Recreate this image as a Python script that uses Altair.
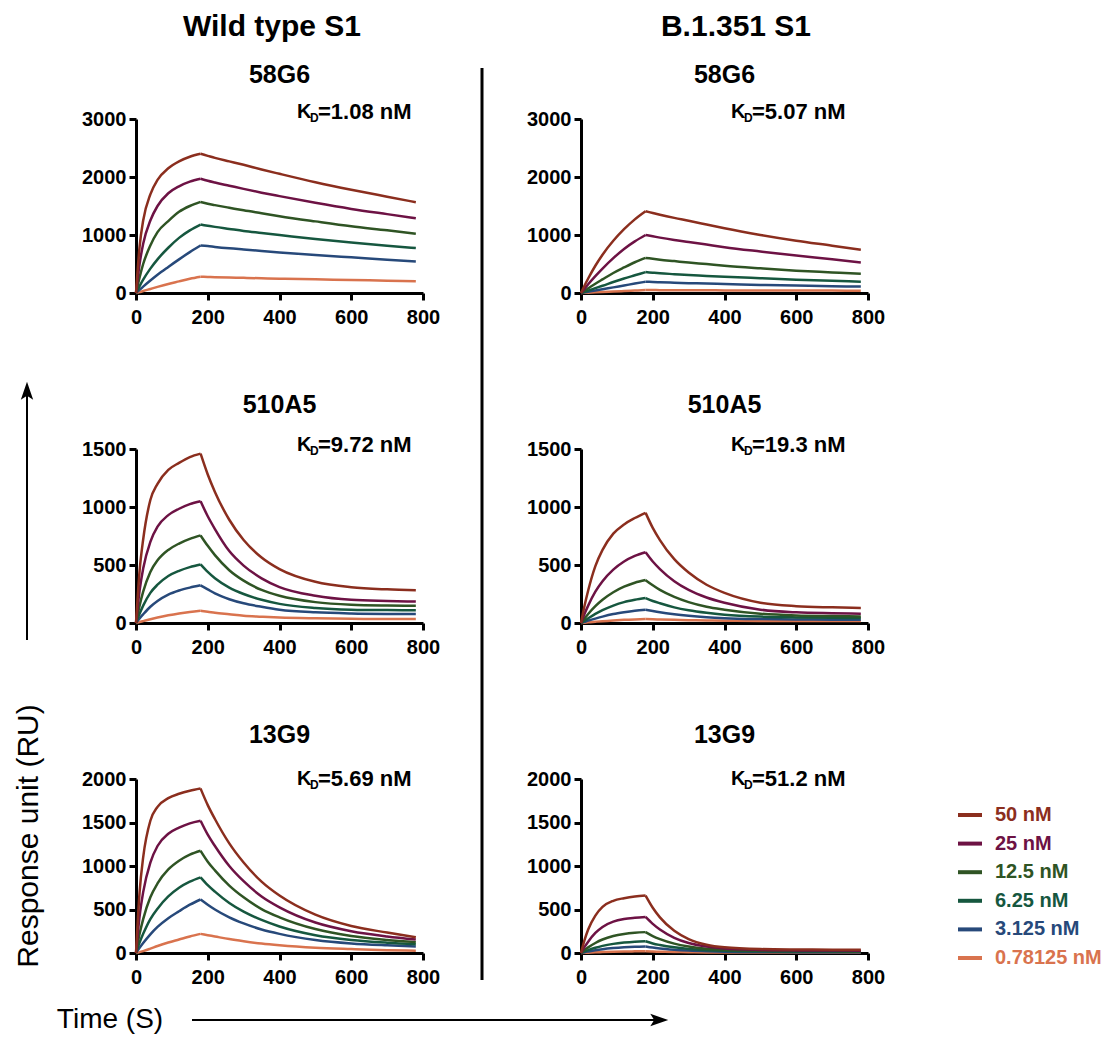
import altair as alt
import pandas as pd

FONT = "Liberation Sans"

# sampling times (s) of every sensorgram
TIMES = [0, 10, 20, 40, 60, 90, 120, 150, 180, 200, 220, 260, 300, 350, 400, 500, 600, 700, 780]
CONCS = ["50 nM", "25 nM", "12.5 nM", "6.25 nM", "3.125 nM", "0.78125 nM"]
COLORS = ["#8B2E1E", "#6D1244", "#2F5424", "#16573F", "#27497A", "#D9734E"]
X_TICKS = [0, 200, 400, 600, 800]

# response units, one list per concentration (50 -> 0.78125 nM)
WT_58G6 = [
    [0, 800, 1250, 1700, 1950, 2150, 2270, 2350, 2400, 2365, 2330, 2270, 2210, 2130, 2055, 1910, 1780, 1660, 1565],
    [0, 500, 850, 1250, 1500, 1720, 1840, 1920, 1970, 1935, 1905, 1850, 1795, 1730, 1670, 1555, 1450, 1360, 1290],
    [0, 270, 500, 820, 1050, 1240, 1400, 1500, 1570, 1540, 1515, 1470, 1425, 1375, 1325, 1235, 1150, 1080, 1020],
    [0, 120, 230, 420, 580, 780, 950, 1080, 1180, 1160, 1140, 1105, 1070, 1035, 1000, 930, 870, 815, 775],
    [0, 55, 110, 215, 315, 450, 580, 705, 820, 810, 795, 770, 750, 725, 700, 655, 615, 575, 545],
    [0, 15, 35, 70, 105, 155, 200, 245, 280, 277, 273, 267, 261, 254, 247, 235, 224, 212, 203],
]
B1351_58G6 = [
    [0, 130, 250, 470, 660, 900, 1100, 1270, 1410, 1380, 1350, 1295, 1245, 1180, 1115, 1000, 900, 815, 745],
    [0, 75, 150, 290, 420, 600, 760, 890, 1000, 978, 955, 915, 880, 835, 790, 715, 645, 580, 525],
    [0, 40, 80, 160, 235, 345, 440, 530, 605, 590, 575, 550, 525, 498, 470, 425, 385, 355, 330],
    [0, 20, 42, 85, 125, 190, 250, 305, 360, 350, 340, 325, 310, 295, 280, 255, 230, 210, 195],
    [0, 11, 22, 43, 65, 97, 130, 162, 195, 190, 185, 178, 170, 162, 155, 140, 128, 118, 110],
    [0, 3, 6, 11, 17, 25, 33, 42, 50, 50, 49, 48, 47, 46, 45, 43, 42, 41, 40],
]
WT_510A5 = [
    [0, 450, 720, 1060, 1200, 1320, 1380, 1430, 1460, 1280, 1130, 890, 715, 565, 465, 355, 308, 290, 283],
    [0, 280, 470, 700, 830, 930, 985, 1025, 1050, 920, 810, 620, 495, 385, 310, 235, 200, 190, 185],
    [0, 150, 270, 440, 540, 630, 685, 725, 755, 665, 585, 455, 365, 285, 235, 180, 157, 150, 148],
    [0, 80, 150, 260, 330, 405, 450, 482, 505, 440, 385, 305, 250, 200, 165, 130, 115, 111, 110],
    [0, 40, 75, 140, 190, 245, 280, 305, 325, 290, 255, 205, 170, 140, 115, 92, 82, 78, 77],
    [0, 8, 16, 32, 47, 66, 82, 95, 105, 97, 88, 75, 62, 54, 47, 40, 36, 34, 34],
]
B1351_510A5 = [
    [0, 150, 280, 490, 630, 770, 850, 905, 950, 820, 715, 550, 435, 330, 260, 175, 145, 135, 130],
    [0, 80, 150, 270, 360, 460, 530, 578, 610, 530, 465, 360, 285, 220, 175, 115, 92, 84, 80],
    [0, 40, 78, 145, 200, 265, 313, 347, 370, 325, 285, 225, 180, 140, 115, 80, 65, 60, 57],
    [0, 20, 40, 78, 110, 150, 180, 200, 215, 190, 170, 135, 110, 88, 72, 55, 48, 45, 43],
    [0, 10, 20, 38, 55, 77, 93, 106, 115, 103, 92, 75, 62, 50, 42, 34, 30, 29, 28],
    [0, 3, 6, 11, 16, 22, 27, 31, 35, 32, 30, 27, 24, 22, 20, 18, 17, 17, 17],
]
WT_13G9 = [
    [0, 700, 1100, 1520, 1680, 1780, 1830, 1865, 1890, 1700, 1540, 1260, 1040, 820, 660, 440, 310, 235, 180],
    [0, 420, 700, 1040, 1230, 1370, 1440, 1490, 1520, 1360, 1230, 1000, 825, 650, 525, 350, 250, 190, 155],
    [0, 220, 390, 640, 800, 960, 1060, 1130, 1175, 1050, 950, 775, 640, 505, 410, 275, 195, 150, 125],
    [0, 120, 220, 390, 510, 650, 750, 820, 870, 780, 705, 575, 475, 380, 305, 205, 150, 118, 100],
    [0, 60, 115, 215, 300, 400, 480, 555, 615, 555, 500, 410, 340, 270, 220, 150, 110, 88, 75],
    [0, 10, 22, 50, 80, 120, 155, 190, 220, 205, 190, 160, 135, 108, 88, 60, 45, 33, 27],
]
B1351_13G9 = [
    [0, 150, 270, 430, 530, 600, 630, 650, 660, 520, 410, 255, 160, 95, 65, 45, 40, 38, 36],
    [0, 70, 130, 230, 300, 360, 390, 405, 415, 335, 270, 175, 115, 75, 52, 35, 30, 28, 27],
    [0, 35, 65, 115, 155, 195, 218, 232, 240, 195, 160, 108, 75, 50, 37, 27, 24, 22, 21],
    [0, 18, 33, 60, 82, 105, 120, 130, 135, 110, 92, 65, 47, 33, 25, 19, 17, 16, 15],
    [0, 9, 17, 32, 44, 57, 66, 72, 75, 62, 52, 38, 28, 20, 15, 11, 10, 10, 10],
    [0, 2, 4, 8, 11, 15, 17, 19, 20, 17, 15, 12, 9, 7, 6, 5, 5, 5, 5],
]

W, H = 287, 174
ARROW_UP = "M0,-1L0.55,0.6L0,0.25L-0.55,0.6Z"
ARROW_RIGHT = "M1,0L-0.6,0.55L-0.25,0L-0.6,-0.55Z"

color = alt.Color("conc:N", scale=alt.Scale(domain=CONCS, range=COLORS), legend=None)


def curve_frame(curves):
    rows = []
    for conc, vals in reversed(list(zip(CONCS, curves))):
        for t, v in zip(TIMES, vals):
            if t <= 180:
                rows.append({"conc": conc, "t": t, "ru": v, "phase": "association"})
            if t >= 180:
                rows.append({"conc": conc, "t": t, "ru": v, "phase": "dissociation"})
    return pd.DataFrame(rows)


def axis(values, pad):
    return alt.Axis(values=values, title=None, grid=False, format="d", labelFont=FONT,
                    labelFontSize=20, labelFontWeight="bold", labelColor="black",
                    labelFlush=False, labelOverlap=False, labelPadding=pad,
                    domainColor="black", domainWidth=3, tickColor="black", tickWidth=3,
                    tickSize=7)


def text_layer(value, x, y, size, weight="bold", angle=0, align="center", col="black"):
    df = pd.DataFrame({"label": [value]})
    return alt.Chart(df).mark_text(font=FONT, fontSize=size, fontWeight=weight, color=col,
                                   align=align, baseline="middle", angle=angle).encode(
        x=alt.value(x), y=alt.value(y), text="label:N")


def one_row():
    return alt.Chart(pd.DataFrame({"k": [0]}))


def panel(name, kd, curves, ymax, ystep, kx, ky, extra=()):
    df = curve_frame(curves)
    lines = alt.Chart(df).mark_line(strokeWidth=2.5, interpolate="monotone").encode(
        x=alt.X("t:Q", scale=alt.Scale(domain=[0, 800], nice=False), axis=axis(X_TICKS, 7)),
        y=alt.Y("ru:Q", scale=alt.Scale(domain=[0, ymax], nice=False),
                axis=axis(list(range(0, ymax + 1, ystep)), 3)),
        color=color, detail="phase:N")
    layers = [lines,
              text_layer(name, W / 2, -44, 25),
              text_layer("K", kx, ky, 20, align="left"),
              text_layer("D", kx + 13, ky + 6, 12, align="left"),
              text_layer("=" + kd + " nM", kx + 21, ky, 22, align="left")]
    layers.extend(extra)
    return alt.layer(*layers).properties(width=W, height=H)


# ---- annotations ----
anchor = one_row().mark_rule(opacity=0, strokeWidth=0.1).encode(
    x=alt.value(-128), y=alt.value(-111), y2=alt.value(-109))
divider = one_row().mark_rule(color="black", strokeWidth=3).encode(
    x=alt.value(346), y=alt.value(-51), y2=alt.value(861))
y_arrow_line = one_row().mark_rule(color="black", strokeWidth=2).encode(
    x=alt.value(-109), y=alt.value(270), y2=alt.value(521))
y_arrow_head = one_row().mark_point(shape=ARROW_UP, filled=True, size=506, color="black",
                                    opacity=1, strokeWidth=0).encode(
    x=alt.value(-109), y=alt.value(274))
y_label = text_layer("Response unit (RU)", -107, 717, 30, weight="normal", angle=270)
header_wt = text_layer("Wild type S1", 136, -92, 30)
header_b = text_layer("B.1.351 S1", 155, -92, 30)

x_label = text_layer("Time (S)", -26, 241, 28, weight="normal")
x_arrow_line = one_row().mark_rule(color="black", strokeWidth=2).encode(
    x=alt.value(56), x2=alt.value(524), y=alt.value(241))
x_arrow_head = one_row().mark_point(shape=ARROW_RIGHT, filled=True, size=506, color="black",
                                    opacity=1, strokeWidth=0).encode(
    x=alt.value(521), y=alt.value(241))

legend_df = pd.DataFrame({"conc": CONCS})
legend_y = alt.Y("conc:N", scale=alt.Scale(type="point", domain=CONCS, range=[36, 179], padding=0),
                 axis=None)
legend_lines = alt.Chart(legend_df).mark_rule(strokeWidth=4).encode(
    x=alt.value(377), x2=alt.value(401), y=legend_y, color=color)
legend_text = alt.Chart(legend_df).mark_text(font=FONT, fontSize=20, fontWeight="bold",
                                             align="left", baseline="middle").encode(
    x=alt.value(414), y=legend_y, text="conc:N", color=color)

KX_L, KX_R = 161, 150

p1 = panel("58G6", "1.08", WT_58G6, 3000, 1000, KX_L, -7,
           extra=[anchor, divider, y_arrow_line, y_arrow_head, y_label, header_wt])
p2 = panel("58G6", "5.07", B1351_58G6, 3000, 1000, KX_R, -7, extra=[header_b])
p3 = panel("510A5", "9.72", WT_510A5, 1500, 500, KX_L, -4)
p4 = panel("510A5", "19.3", B1351_510A5, 1500, 500, KX_R, -4)
p5 = panel("13G9", "5.69", WT_13G9, 2000, 500, KX_L, 0,
           extra=[x_label, x_arrow_line, x_arrow_head])
p6 = panel("13G9", "51.2", B1351_13G9, 2000, 500, KX_R, 0,
           extra=[legend_lines, legend_text]).resolve_scale(y="independent")

chart = alt.concat(p1, p2, p3, p4, p5, p6, columns=2,
                   spacing={"row": 156, "column": 158}, bounds="flush").properties(
    padding=0, background="white").configure_view(strokeWidth=0)

chart.save("out.html", embed_options={"renderer": "svg", "actions": False})
